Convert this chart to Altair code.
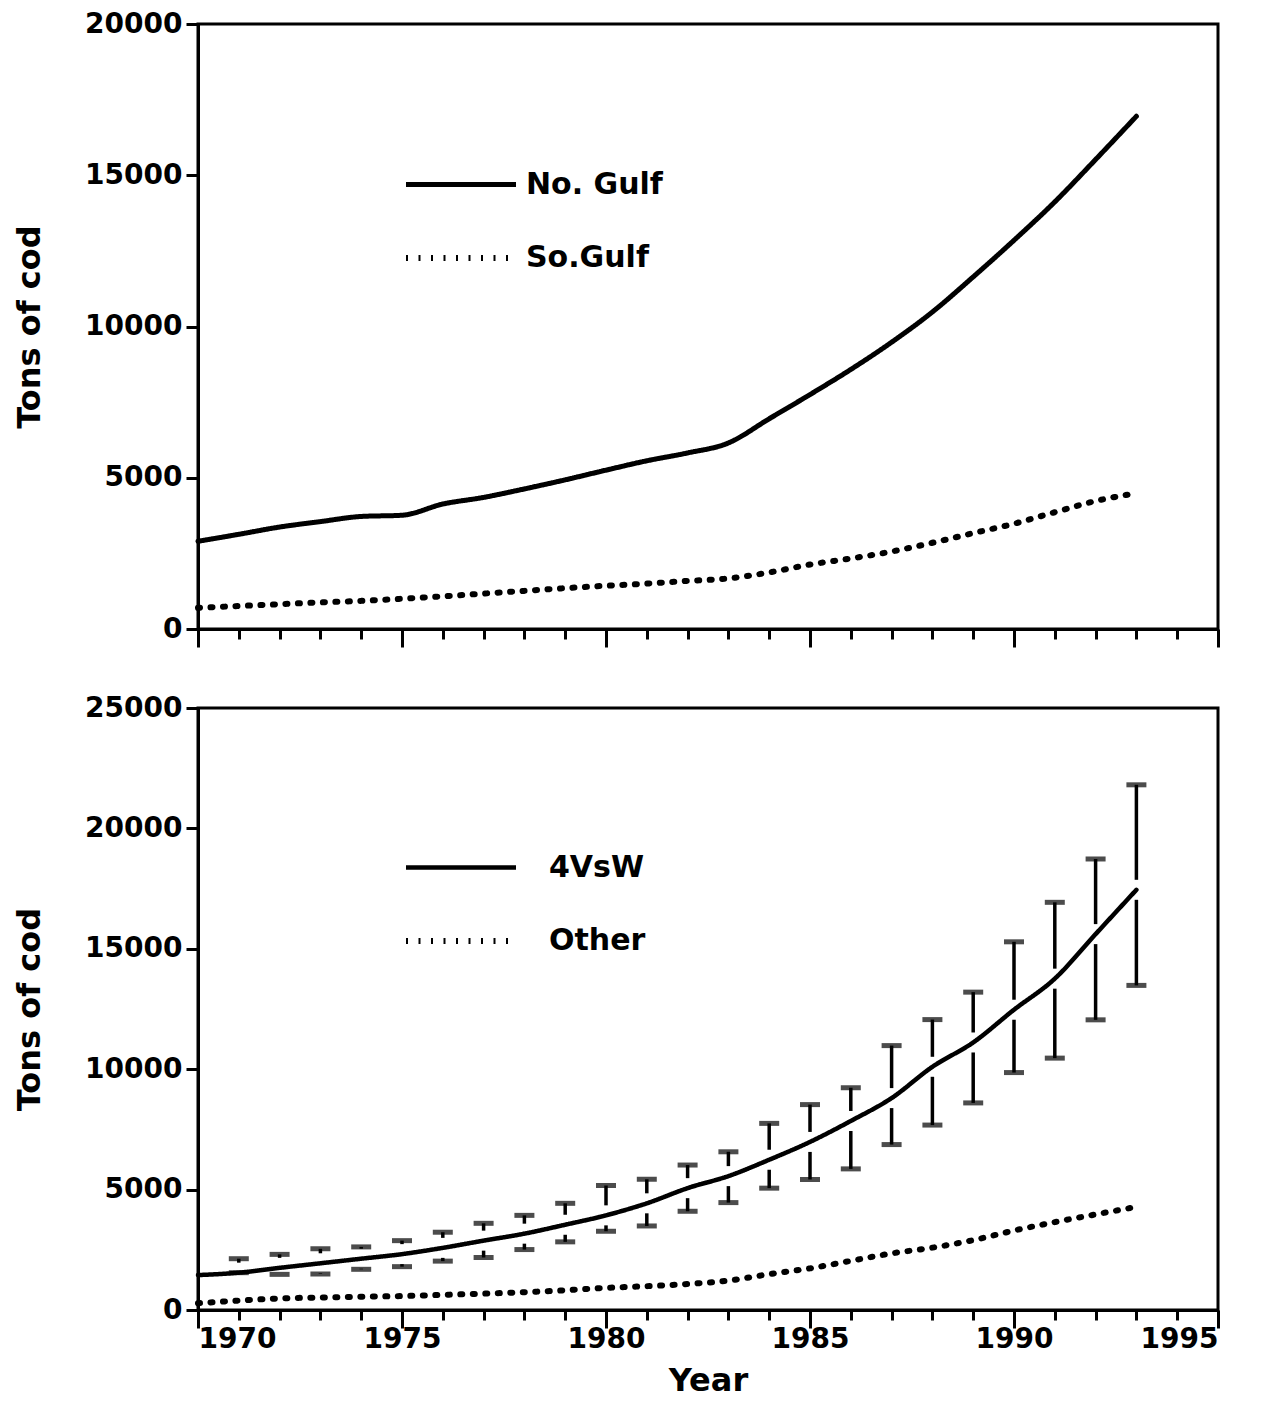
import altair as alt
import pandas as pd

# ---------------- data ----------------
years = list(range(1970, 1994))

# top panel
no_gulf = [2900, 3130, 3370, 3550, 3720, 3760, 4130, 4350, 4630, 4930, 5250, 5560,
           5820, 6150, 6950, 7750, 8580, 9480, 10480, 11640, 12850, 14120, 15520, 16950]
so_gulf = [700, 760, 820, 880, 930, 1000, 1080, 1170, 1260, 1350, 1430, 1500,
           1590, 1670, 1870, 2130, 2330, 2560, 2850, 3170, 3480, 3860, 4230, 4490]

# bottom panel
vsw = [1450, 1550, 1750, 1940, 2130, 2320, 2580, 2880, 3170, 3540, 3930, 4430,
       5060, 5560, 6240, 6980, 7850, 8800, 10100, 11110, 12470, 13760, 15610, 17450]
other = [280, 390, 480, 520, 550, 580, 630, 680, 740, 820, 920, 990,
         1080, 1220, 1490, 1730, 2040, 2350, 2590, 2900, 3300, 3650, 3970, 4280]

err_years = list(range(1971, 1994))
err_upper = [2130, 2310, 2540, 2620, 2880, 3230, 3600, 3930, 4430, 5170, 5430, 6020,
             6570, 7750, 8530, 9230, 10980, 12060, 13200, 15290, 16930, 18730, 21810]
err_lower = [1550, 1480, 1500, 1690, 1800, 2030, 2180, 2510, 2830, 3270, 3490, 4100,
             4460, 5060, 5420, 5860, 6870, 7680, 8600, 9860, 10460, 12050, 13480]

top_names = ["No. Gulf", "So.Gulf"]
bot_names = ["4VsW", "Other"]
x_ticks = list(range(1970, 1996))
top_y_ticks = [0, 5000, 10000, 15000, 20000]
bot_y_ticks = [0, 5000, 10000, 15000, 20000, 25000]

# ---------------- tables ----------------
top_df = pd.DataFrame({
    "Year": years * 2,
    "Tons": no_gulf + so_gulf,
    "series": [top_names[0]] * len(years) + [top_names[1]] * len(years),
})
bot_df = pd.DataFrame({
    "Year": years * 2,
    "Tons": vsw + other,
    "series": [bot_names[0]] * len(years) + [bot_names[1]] * len(years),
})
mean_at = dict(zip(years, vsw))
err_df = pd.DataFrame({
    "Year": err_years, "lower": err_lower, "upper": err_upper,
    "mean": [mean_at[y] for y in err_years],
})
cap_df = pd.DataFrame({"Year": err_years * 2, "Tons": err_upper + err_lower})

FONT = "DejaVu Sans"
W, H_TOP, H_BOT = 1020, 605, 602
GAP = 25000 / H_BOT * 10  # the bars break about 10 px either side of the curve

tick_size = {"condition": {"test": "datum.value % 5 === 0", "value": 18}, "value": 10}


def x_axis(labels):
    kw = dict(values=x_ticks, format="d", tickSize=tick_size, zindex=1)
    if labels:
        return alt.Axis(title="Year", labels=True, labelPadding=-3,
                        labelExpr="datum.value % 5 === 0 ? datum.label : ''",
                        titlePadding=12, **kw)
    return alt.Axis(title=None, labels=False, **kw)


def y_axis(vals):
    return alt.Axis(title="Tons of cod", values=vals, format="d", tickSize=12,
                    labelPadding=4, titlePadding=38, zindex=1)


def dash(names, label_offset, legend_y):
    return alt.StrokeDash(
        "series:N",
        scale=alt.Scale(domain=names, range=[[1, 0], [2, 10.5]]),
        legend=alt.Legend(
            title=None, orient="none", legendX=205, legendY=legend_y,
            direction="vertical", padding=0,
            symbolType="stroke", symbolSize=12100, symbolStrokeWidth=6,
            symbolStrokeColor="black", labelFont=FONT, labelFontWeight="bold",
            labelFontSize=30, labelColor="black", labelOffset=label_offset,
            rowPadding=-27, labelLimit=400,
        ),
    )


def width_enc(names, solid_w):
    return alt.StrokeWidth("series:N",
                           scale=alt.Scale(domain=names, range=[solid_w, 6]),
                           legend=None)


xs = alt.Scale(domain=[1970, 1995], nice=False)
ys_top_scale = alt.Scale(domain=[0, 20000], nice=False)
ys_bot_scale = alt.Scale(domain=[0, 25000], nice=False)

# ---------------- top panel ----------------
x_top = alt.X("Year:Q", scale=xs, axis=x_axis(False))
y_top = alt.Y("Tons:Q", scale=ys_top_scale, axis=y_axis(top_y_ticks))

top = alt.Chart(top_df).mark_line(
    color="black", strokeCap="round", interpolate="monotone"
).encode(
    x=x_top, y=y_top,
    strokeDash=dash(top_names, 7, 103),
    strokeWidth=width_enc(top_names, 5),
).properties(width=W, height=H_TOP)

# ---------------- bottom panel ----------------
x_bot = alt.X("Year:Q", scale=xs, axis=x_axis(True))
y_bot = alt.Y("Tons:Q", scale=ys_bot_scale, axis=y_axis(bot_y_ticks))

bars_up = alt.Chart(err_df).transform_calculate(
    seg="datum.mean + %f" % GAP
).transform_filter("datum.upper > datum.seg").mark_rule(
    color="black", strokeWidth=3.5
).encode(
    x=x_bot, y=alt.Y("upper:Q", scale=ys_bot_scale, axis=y_axis(bot_y_ticks)), y2="seg:Q"
)
bars_dn = alt.Chart(err_df).transform_calculate(
    seg="datum.mean - %f" % GAP
).transform_filter("datum.lower < datum.seg").mark_rule(
    color="black", strokeWidth=3.5
).encode(
    x=x_bot, y=alt.Y("lower:Q", scale=ys_bot_scale, axis=y_axis(bot_y_ticks)), y2="seg:Q"
)
caps = alt.Chart(cap_df).mark_tick(
    color="black", orient="horizontal", size=20, thickness=5
).encode(x=x_bot, y=y_bot)
bot_lines = alt.Chart(bot_df).mark_line(
    color="black", strokeCap="round", interpolate="monotone"
).encode(
    x=x_bot, y=y_bot,
    strokeDash=dash(bot_names, 30, 102),
    strokeWidth=width_enc(bot_names, 4.5),
)

bottom = alt.layer(bars_up, bars_dn, caps, bot_lines).properties(width=W, height=H_BOT)

chart = alt.vconcat(top, bottom, spacing=42).resolve_scale(
    strokeDash="independent", strokeWidth="independent"
).resolve_legend(
    strokeDash="independent"
).properties(
    padding={"left": 4, "top": 0, "right": 10, "bottom": 0}, background="white"
).configure_view(
    stroke="black", strokeWidth=3
).configure_axis(
    domainColor="black", domainWidth=3, tickColor="black", tickWidth=3,
    labelFont=FONT, labelFontWeight="bold", labelFontSize=28, labelColor="black",
    titleFont=FONT, titleFontWeight="bold", titleFontSize=32, titleColor="black",
    grid=False,
)

chart.save("out.html", embed_options={"renderer": "svg", "actions": False})
